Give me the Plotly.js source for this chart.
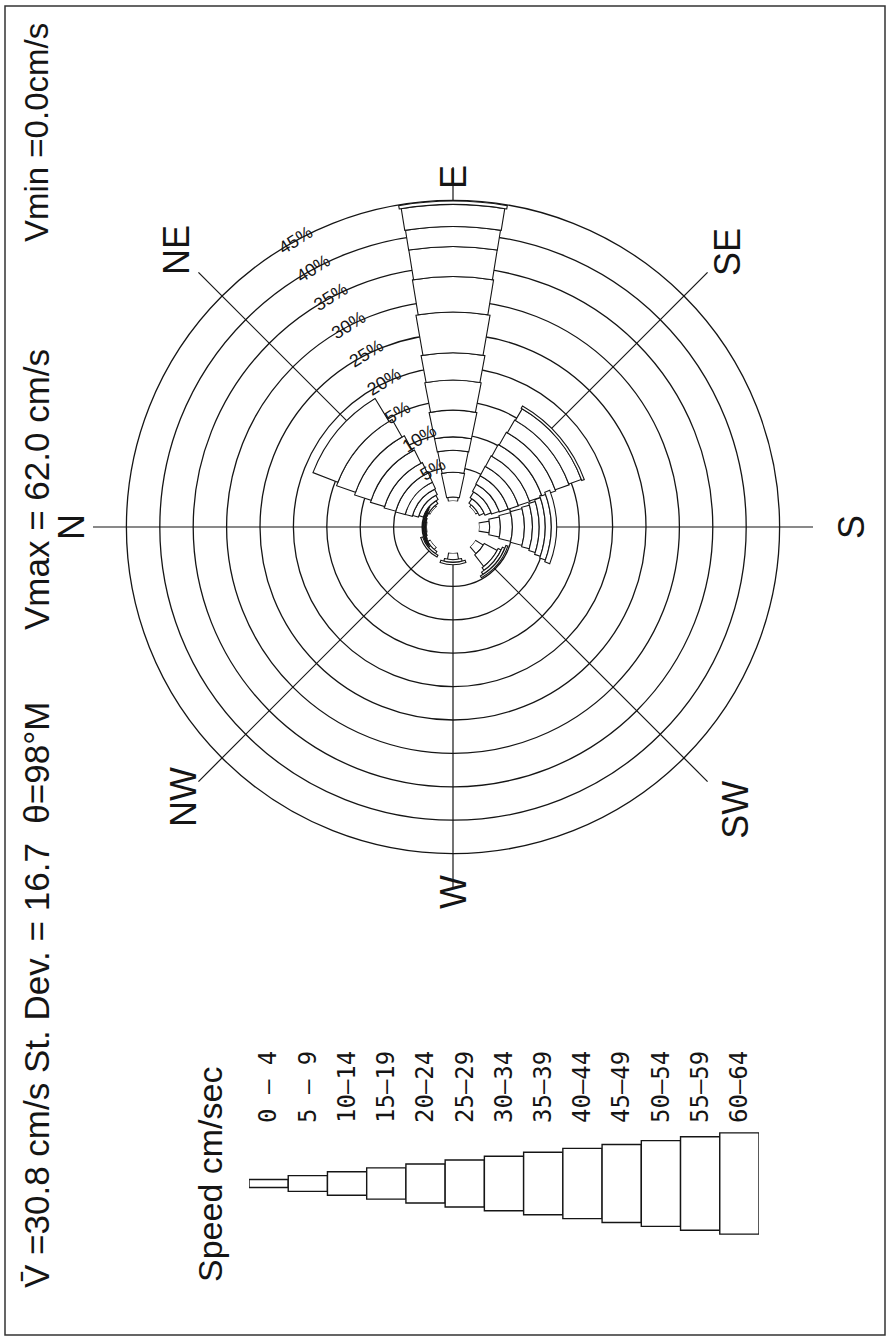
<!DOCTYPE html>
<html><head><meta charset="utf-8">
<script src="https://cdn.plot.ly/plotly-3.0.1.min.js"></script>
<style>html,body{margin:0;padding:0;background:#fff}#chart{width:890px;height:1341px}</style>
</head><body><div id="chart"></div>
<script>
// ---------- data ----------
const speedClasses = ["0 – 4","5 – 9","10–14","15–19","20–24","25–29","30–34","35–39","40–44","45–49","50–54","55–59","60–64"];
const directionTheta = [0, 40, 90, 140, 180, 220, 270, 320];
// percent of observations per speed class (slowest first) for each direction
const pctN   = [0.2, 0.15, 0.1, 0.1, 0.1, 0.1];
const pctNE  = [0.3, 0.5, 0.7, 0.9, 1.1, 1.5, 1.8, 2.2, 2.6, 3.0, 4.0];
const pctE   = [0.6, 3.7, 3.3, 2.0, 4.0, 4.5, 4.1, 6.1, 5.3, 4.5, 3.0, 3.3, 0.5];
const pctSE  = [0.4, 0.8, 1.0, 1.2, 1.4, 1.6, 1.8, 2.0, 2.2, 2.2, 2.0, 0.4];
const pctS   = [1.6, 1.6, 1.8, 1.8, 1.2, 1.0, 0.9, 0.9, 0.8];
const pctSW  = [1.4, 2.2, 0.5, 0.4, 0.3];
const pctW   = [1.0, 0.4, 0.35];
const pctNW  = [0.5, 0.4, 0.3];
const directionPct = [pctN, pctNE, pctE, pctSE, pctS, pctSW, pctW, pctNW];
const ringPct    = [5, 10, 15, 20, 25, 30, 35, 40, 45];
const ringLabels = ["5%", "10%", "5%", "20%", "25%", "30%", "35%", "40%", "45%"];
const compassTheta  = [0, 45, 90, 135, 180, 225, 270, 315];
const compassLabels = ["N", "NE", "E", "SE", "S", "SW", "W", "NW"];
const headerMean = "V\u0304 =30.8 cm/s St. Dev. = 16.7  \u03b8=98\u00b0M";
const headerMax  = "Vmax = 62.0 cm/s";
const headerMin  = "Vmin =0.0cm/s";
const legendTitle = "Speed cm/sec";

// ---------- geometry / style ----------
const W = 890, H = 1341;
const cx = 453, cy = 527, R = 360, holePx = 26, rMax = 50;
const pxPerPct = (R - holePx) / rMax;
const roseWidthPx = k => 10 + 8.3 * k;       // physical width of a speed class in the rose
const legendWidth = k => 8 + 7.85 * k;        // height of a speed class box in the key
const compassLabelRadius = [382, 391, 350, 389, 398, 400, 365, 382]; // px from centre, per label
const ink = '#151515';
const sans = '"Liberation Sans", Arial, sans-serif';
const mono = '"DejaVu Sans Mono", "Liberation Mono", monospace';

const traces = [];
speedClasses.forEach((name, k) => {
  const th = [], rr = [], wd = [];
  directionPct.forEach((arr, d) => {
    if (k < arr.length && arr[k] > 0) {
      let base = 0;
      for (let j = 0; j < k; j++) base += arr[j];
      const rMid = holePx + pxPerPct * (base + arr[k] / 2);
      th.push(directionTheta[d]);
      rr.push(arr[k]);
      wd.push(2 * Math.atan(roseWidthPx(k) / 2 / rMid) * 180 / Math.PI);
    }
  });
  traces.push({
    type: 'barpolar', subplot: 'polar', name: name,
    theta: th, r: rr, width: wd,
    marker: {color: '#ffffff', line: {color: ink, width: 1.1}},
    hoverinfo: 'skip'
  });
});

// speed key
traces.push({
  type: 'bar', xaxis: 'x', yaxis: 'y',
  x: speedClasses.map((c, k) => k),
  y: speedClasses.map((c, k) => legendWidth(k)),
  base: speedClasses.map((c, k) => -legendWidth(k) / 2),
  width: 1,
  marker: {color: '#ffffff', line: {color: ink, width: 1.4}},
  hoverinfo: 'skip'
});

const annotations = [
  {text: legendTitle, x: 210 / W, y: 1 - 1175 / H, font: {family: sans, size: 34, color: ink}},
  {text: headerMean, x: 36 / W, y: 1 - 995 / H, font: {family: sans, size: 35, color: ink}},
  {text: headerMax, x: 36 / W, y: 1 - 490 / H, font: {family: sans, size: 35, color: ink}},
  {text: headerMin, x: 36 / W, y: 1 - 133 / H, font: {family: sans, size: 33, color: ink}}
];
compassLabels.forEach((lab, i) => {
  const a = compassTheta[i] * Math.PI / 180;
  const rl = compassLabelRadius[i];
  annotations.push({
    text: lab, x: (cx - rl * Math.cos(a)) / W, y: 1 - (cy - rl * Math.sin(a)) / H,
    font: {family: sans, size: 36, color: ink}
  });
});
annotations.forEach(a => Object.assign(a, {
  xref: 'paper', yref: 'paper', textangle: -90, showarrow: false,
  xanchor: 'center', yanchor: 'middle'
}));

const layout = {
  width: W, height: H,
  margin: {l: 0, r: 0, t: 0, b: 0},
  paper_bgcolor: '#ffffff', plot_bgcolor: '#ffffff',
  showlegend: false,
  polar: {
    domain: {x: [(cx - R) / W, (cx + R) / W], y: [1 - (cy + R) / H, 1 - (cy - R) / H]},
    hole: holePx / R,
    bgcolor: 'rgba(0,0,0,0)',
    barmode: 'stack',
    angularaxis: {
      rotation: 180, direction: 'clockwise',
      tickmode: 'array', tickvals: compassTheta, ticktext: compassLabels,
      showticklabels: false,
      showgrid: true, gridcolor: ink, gridwidth: 1.2,
      showline: false, ticks: ''
    },
    radialaxis: {
      range: [0, rMax],
      tickmode: 'array', tickvals: ringPct, ticktext: ringLabels,
      showgrid: true, gridcolor: ink, gridwidth: 1.3,
      showline: false, ticks: '', angle: 122, tickangle: 90,
      tickfont: {family: sans, size: 18, color: ink}
    }
  },
  xaxis: {
    domain: [249 / W, 759 / W], range: [-0.5, 12.5], anchor: 'y', side: 'top',
    tickmode: 'array', tickvals: speedClasses.map((c, k) => k), ticktext: speedClasses,
    tickangle: -90, showgrid: false, zeroline: false, showline: false, ticks: '',
    tickfont: {family: mono, size: 24, color: ink}, fixedrange: true
  },
  yaxis: {
    domain: [1 - 1243 / H, 1 - 1124 / H], range: [-60, 60], visible: false, fixedrange: true
  },
  annotations: annotations,
  shapes: [
    {type: 'rect', xref: 'paper', yref: 'paper', x0: 5 / W, x1: 885 / W, y0: 1 - 1335 / H, y1: 1 - 6 / H,
     line: {color: '#333', width: 1.5}}
  ]
};

Plotly.newPlot('chart', traces, layout, {staticPlot: true, displayModeBar: false});
</script></body></html>
